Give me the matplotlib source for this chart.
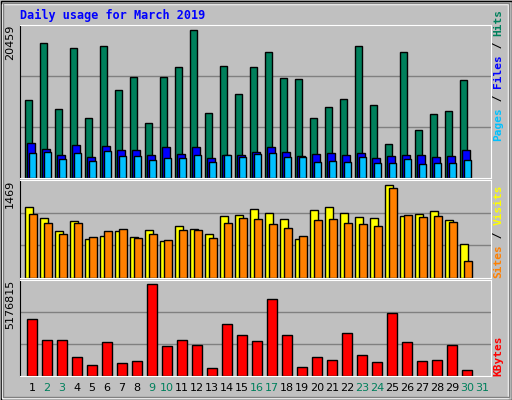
import numpy as np
import matplotlib.pyplot as plt
from matplotlib.patches import Rectangle

days = np.arange(1, 31)
hits = [10717, 18650, 9603, 17954, 8351, 18233, 12109, 13918, 7655, 13918,
        15310, 20459, 9047, 15449, 11552, 15310, 17398, 13779, 13640, 8351,
        9882, 10856, 18233, 10160, 4732, 17398, 6681, 8908, 9325, 13500]
files = [4871, 4036, 3201, 4593, 2923, 4454, 3897, 3897, 3201, 4315,
         3340, 4315, 2784, 3201, 3201, 3619, 4315, 3619, 3062, 3340,
         3480, 3201, 3480, 2784, 3062, 3201, 3201, 2923, 3062, 3897]
pages = [3480, 3619, 2644, 3480, 2366, 3758, 3062, 3062, 2505, 2784,
         2784, 3201, 2227, 3201, 2923, 3340, 3480, 2923, 2923, 2227,
         2366, 2227, 2923, 2088, 2088, 2644, 1949, 2088, 2088, 2505]
sites = [1118, 942, 750, 894, 623, 671, 750, 655, 766, 591,
         814, 782, 703, 974, 990, 1086, 1022, 926, 623, 1070,
         1118, 1022, 958, 942, 1469, 974, 1006, 1054, 910, 543]
visits = [1006, 862, 703, 862, 655, 750, 782, 639, 703, 607,
          766, 766, 639, 862, 942, 926, 846, 798, 671, 910,
          926, 862, 846, 814, 1421, 990, 958, 974, 878, 271]
kbytes = [3185700, 2048000, 2048000, 1080900, 625800, 1934200, 739500, 853300, 5176815, 1706600,
          2048000, 1763500, 455100, 2901300, 2332400, 1991100, 4323500, 2332400, 512000, 1080900,
          910200, 2446200, 1194600, 796400, 3527100, 1934200, 853300, 910200, 1763500, 341300]
weekend = [2, 3, 9, 10, 16, 17, 23, 24, 30, 31]

W, H = 512, 400
BG = '#C0C0C0'
fig = plt.figure(figsize=(W / 100, H / 100), dpi=100, facecolor=BG)
mono = 'DejaVu Sans Mono'

# bevel border
fig.add_artist(Rectangle((0.5 / W, 0.5 / H), 1 - 1 / W, 1 - 1 / H, transform=fig.transFigure,
                         fill=False, ec='black', lw=1))
fig.add_artist(Rectangle((2 / W, 2 / H), 1 - 6 / W, 1 - 6 / H, transform=fig.transFigure,
                         fill=False, ec='white', lw=1))
fig.add_artist(Rectangle((3 / W, 3 / H), 1 - 6 / W, 1 - 6 / H, transform=fig.transFigure,
                         fill=False, ec='#808080', lw=1))


def bars(ax, vals, off, width, color):
    x = days - 1 + off / 15
    ax.bar(x, vals, width=width / 15, align='edge', color=color, ec='black', lw=1, zorder=2)


ax1 = fig.add_axes([20 / W, 1 - 178 / H, 471 / W, 153 / H])
ax1.set_ylim(0, max(hits) * 152 / 147)
ax2 = fig.add_axes([20 / W, 1 - 278 / H, 471 / W, 98 / H])
ax2.set_ylim(0, max(sites) * 97 / 92)
ax3 = fig.add_axes([20 / W, 1 - 376 / H, 471 / W, 96 / H])
ax3.set_ylim(0, max(kbytes) * 95 / 91)

for ax in (ax1, ax2, ax3):
    ax.set_facecolor(BG)
    ax.set_xlim(0, 471 / 15)
    for s in ax.spines.values():
        s.set_color('white')
    ax.spines['left'].set_color('black')
    ax.set_xticks([])
    ax.set_yticks([])
    top = ax.get_ylim()[1]
    for f in (1 / 3, 2 / 3):
        ax.axhline(f * top, color='#808080', lw=1, zorder=0)

bars(ax1, hits, 5, 7, '#00805C')
bars(ax1, files, 7, 8, '#0000FF')
bars(ax1, pages, 9, 7, '#00C0FF')
bars(ax2, sites, 5, 8, '#FFFF00')
bars(ax2, visits, 9, 8, '#FF8000')
bars(ax3, kbytes, 7, 10, '#FF0000')

fig.text(20 / W, 1 - 15 / H, 'Daily usage for March 2019', color='#0000FF', family=mono,
         weight='bold', fontsize=8.5, va='center')

# max labels on the left
for ax, v in ((ax1, max(hits)), (ax2, max(sites)), (ax3, max(kbytes))):
    ax.text(-0.01, 1.0, str(v), transform=ax.transAxes, rotation=90, ha='right', va='top',
            fontsize=8, family='DejaVu Sans')


# right side legends, built bottom-up
def right_label(ax, parts, y0):
    y = y0
    for txt, col in parts:
        ax.text(1.005, y, txt, transform=ax.transAxes, rotation=90, ha='left', va='bottom',
                color=col, family=mono, weight='bold', fontsize=8)
        y += (len(txt) * 6.6) / (ax.bbox.height)


right_label(ax1, [('Pages', '#00C0FF'), (' / ', '#000000'), ('Files', '#0000FF'),
                  (' / ', '#000000'), ('Hits', '#00805C')], 0.24)
right_label(ax2, [('Sites', '#FF8000'), (' / ', '#000000'), ('Visits', '#FFFF00')], 0.0)
right_label(ax3, [('KBytes', '#FF0000')], 0.0)

for d in range(1, 32):
    x = (20 + (d - 1) * 15 + 12) / W
    fig.text(x, 1 - 388 / H, str(d), ha='center', va='center', fontsize=8,
             color='#00805C' if d in weekend else 'black')

fig.savefig('out.png', dpi=100, facecolor=BG)
